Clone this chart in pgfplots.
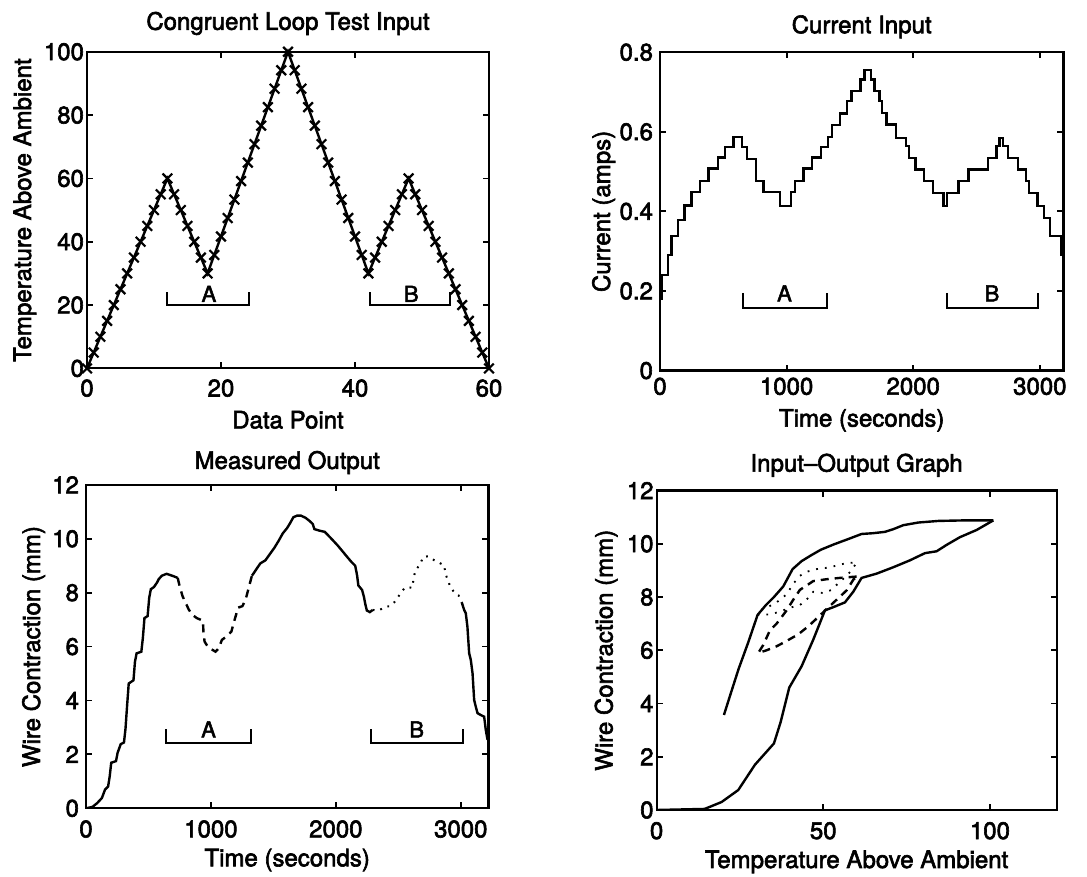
\documentclass[border=0pt]{standalone}
\usepackage{fontspec}
\setmainfont{TeX Gyre Heros}[FakeBold=2.5]
\usepackage{pgfplots}
\pgfplotsset{compat=1.18}
\pgfplotsset{
  mat/.style={
    scale only axis, anchor=south west,
    font=\fontsize{12}{14}\selectfont,
    /pgf/number format/assume math mode=true,
    axis line style={line width=1.1pt},
    every tick/.style={line width=0.9pt, black},
    major tick length=3pt,
    tick align=inside, tick pos=both,
    scaled ticks=false,
    every axis title shift=0pt,
    title style={anchor=base},
    xlabel style={anchor=base},
    ylabel style={anchor=base},
  },
}
\tikzset{lbl/.style={font=\fontsize{11}{13}\selectfont, anchor=base}}
\begin{document}
\begin{tikzpicture}
\path[use as bounding box] (0,0) rectangle (543.5pt,438.5pt);

% ---------- Panel 1
\begin{axis}[mat, at={(43.5pt,254.3pt)}, width=201pt, height=158.3pt,
  xmin=0, xmax=60, ymin=0, ymax=100, clip=false,
  xtick={0,20,40,60}, ytick={0,20,40,60,80,100},
  xticklabel style={yshift=-2pt}, yticklabel style={xshift=2pt},
  title={Congruent Loop Test Input},
  title style={at={([yshift=11pt]axis description cs:0.5,1)}},
  xlabel={Data Point}, xlabel style={at={([yshift=-30pt]axis description cs:0.5,0)}},
  ylabel={Temperature Above Ambient}, ylabel style={at={([xshift=-28pt]axis description cs:0,0.5)}},
]
\addplot[black, line width=1.2pt, mark=x, mark size=3.4pt, mark options={line width=1.1pt}] coordinates {
(0,0)(1,5)(2,10)(3,15)(4,20)(5,25)(6,30)(7,35)(8,40)(9,45)(10,50)(11,55)(12,60)
(13,55)(14,50)(15,45)(16,40)(17,35)(18,30)
(19,35.83)(20,41.67)(21,47.5)(22,53.33)(23,59.17)(24,65)(25,70.83)(26,76.67)(27,82.5)(28,88.33)(29,94.17)(30,100)
(31,94.17)(32,88.33)(33,82.5)(34,76.67)(35,70.83)(36,65)(37,59.17)(38,53.33)(39,47.5)(40,41.67)(41,35.83)(42,30)
(43,35)(44,40)(45,45)(46,50)(47,55)(48,60)
(49,55)(50,50)(51,45)(52,40)(53,35)(54,30)(55,25)(56,20)(57,15)(58,10)(59,5)(60,0)};
\addplot[black, line width=1pt] coordinates {(12,24)(12,20)(24.2,20)(24.2,24)};
\addplot[black, line width=1pt] coordinates {(42.2,24)(42.2,20)(54.2,20)(54.2,24)};
\node[lbl] at (axis cs:18.2,21) {A};
\node[lbl] at (axis cs:48.4,21) {B};
\end{axis}

% ---------- Panel 2
\begin{axis}[mat, at={(330pt,253.2pt)}, width=201.7pt, height=159.2pt,
  xmin=0, xmax=3186, ymin=0, ymax=0.8,
  xtick={0,1000,2000,3000}, xticklabels={0,1000,2000,3000},
  ytick={0,0.2,0.4,0.6,0.8}, yticklabels={0,0.2,0.4,0.6,0.8},
  title={Current Input},
  title style={at={([yshift=9.5pt]axis description cs:0.5,1)}},
  xlabel={Time (seconds)}, xlabel style={at={([yshift=-28pt]axis description cs:0.5,0)}},
  ylabel={Current (amps)}, ylabel style={at={([xshift=-25pt]axis description cs:0,0.5)}},
]
\addplot[black, line width=1.2pt, const plot] coordinates {
(0,0.18)(12,0.24)(61,0.29)(92,0.338)(140,0.379)(192,0.415)(250,0.448)(316,0.477)(382,0.508)(456,0.535)(514,0.562)(580,0.587)
(646,0.562)(685,0.532)(756,0.477)(817,0.448)(949,0.413)
(1036,0.448)(1067,0.477)(1133,0.508)(1199,0.535)(1273,0.562)(1326,0.587)(1357,0.617)(1423,0.646)(1476,0.677)(1512,0.702)(1582,0.731)(1616,0.756)
(1668,0.731)(1694,0.702)(1733,0.677)(1754,0.647)(1790,0.618)(1863,0.585)(1941,0.564)(1967,0.534)(2019,0.505)(2084,0.476)(2154,0.446)(2240,0.413)
(2266,0.446)(2357,0.476)(2435,0.505)(2591,0.534)(2656,0.564)(2682,0.585)
(2708,0.564)(2747,0.534)(2825,0.505)(2890,0.476)(2916,0.446)(2981,0.413)(3033,0.384)(3080,0.338)(3172,0.29)(3186,0.29)};
\addplot[black, line width=1pt] coordinates {(653,0.195)(653,0.157)(1318,0.157)(1318,0.195)};
\addplot[black, line width=1pt] coordinates {(2266,0.195)(2266,0.157)(2985,0.157)(2985,0.195)};
\node[lbl] at (axis cs:983,0.174) {A};
\node[lbl] at (axis cs:2622,0.174) {B};
\end{axis}

% ---------- Panel 3
\begin{axis}[mat, at={(43pt,34.35pt)}, width=201.2pt, height=161.7pt,
  xmin=0, xmax=3221, ymin=0, ymax=12,
  xtick={0,1000,2000,3000}, xticklabels={0,1000,2000,3000},
  ytick={0,2,4,6,8,10,12},
  xticklabel style={yshift=-2.5pt},
  title={Measured Output},
  title style={at={([yshift=8pt]axis description cs:0.5,1)}},
  xlabel={Time (seconds)}, xlabel style={at={([yshift=-29pt]axis description cs:0.5,0)}},
  ylabel={Wire Contraction (mm)}, ylabel style={at={([xshift=-23pt]axis description cs:0,0.5)}},
]
\addplot[black, line width=1.2pt] coordinates {
(0,0)(51,0.05)(89,0.19)(127,0.38)(152,0.69)(177,0.81)(190,1.19)(202,1.69)(240,1.75)(253,2.06)(278,2.38)(304,2.44)(316,2.94)(329,3.81)(342,4.63)(380,4.75)(392,5.44)(405,5.75)(443,5.81)(455,6.31)(468,7.06)(493,7.13)(506,7.81)(519,8.13)(544,8.21)(569,8.38)(582,8.5)(607,8.63)(645,8.7)(696,8.62)(734,8.55)};
\addplot[black, line width=1.2pt, dash pattern=on 4pt off 3pt] coordinates {
(734,8.55)(746,8.31)(772,7.88)(797,7.63)(822,7.38)(848,7.19)(886,7.06)(936,6.96)(940,6.56)(949,6.19)(974,6.0)(1012,5.88)(1037,5.81)(1063,5.94)(1088,6.25)(1126,6.38)(1164,6.56)(1182,6.88)(1202,7.19)(1214,7.44)(1252,7.5)(1278,7.75)(1303,8.19)(1328,8.63)};
\addplot[black, line width=1.2pt] coordinates {
(1328,8.63)(1342,8.72)(1369,8.91)(1396,9.09)(1436,9.2)(1476,9.46)(1510,9.68)(1545,9.95)(1575,10.2)(1610,10.4)(1636,10.6)(1660,10.8)(1690,10.86)(1720,10.86)(1757,10.78)(1790,10.66)(1815,10.55)(1828,10.36)(1870,10.3)(1910,10.26)(1940,10.12)(1975,9.95)(2015,9.75)(2060,9.5)(2090,9.33)(2125,9.14)(2155,9.0)(2170,8.64)(2180,8.27)(2210,8.1)(2225,7.84)(2235,7.59)(2248,7.34)(2272,7.28)(2295,7.36)};
\addplot[black, line width=1pt, dash pattern=on 0.9pt off 3pt] coordinates {
(2295,7.36)(2341,7.34)(2405,7.49)(2430,7.49)(2469,7.65)(2507,7.90)(2546,8.15)(2571,8.21)(2610,8.18)(2623,8.52)(2635,8.81)(2674,9.05)(2699,9.33)(2738,9.35)(2789,9.20)(2866,9.02)(2879,8.68)(2917,8.21)(2956,7.96)(2982,7.90)(3007,7.65)};
\addplot[black, line width=1.2pt] coordinates {
(3007,7.65)(3027,7.36)(3040,7.24)(3053,6.74)(3067,5.75)(3080,5.51)(3094,5.01)(3107,4.02)(3120,3.77)(3134,3.53)(3160,3.46)(3187,3.40)(3200,2.91)(3214,2.54)};
\addplot[black, line width=1pt] coordinates {(642,2.93)(642,2.41)(1321,2.41)(1321,2.93)};
\addplot[black, line width=1pt] coordinates {(2278,2.93)(2278,2.41)(3021,2.41)(3021,2.93)};
\node[lbl] at (axis cs:981,2.63) {A};
\node[lbl] at (axis cs:2647,2.63) {B};
\end{axis}

% ---------- Panel 4
\begin{axis}[mat, at={(328.3pt,33.5pt)}, width=200pt, height=159.7pt,
  xmin=0, xmax=120, ymin=0, ymax=12,
  xtick={0,50,100}, ytick={0,2,4,6,8,10,12},
  xticklabel style={yshift=-2.5pt}, yticklabel style={xshift=2pt},
  title={Input--Output Graph},
  title style={at={([yshift=9.5pt]axis description cs:0.5,1)}},
  xlabel={Temperature Above Ambient}, xlabel style={at={([yshift=-29pt]axis description cs:0.5,0)}},
  ylabel={Wire Contraction (mm)}, ylabel style={at={([xshift=-22pt]axis description cs:0,0.5)}},
]
\addplot[black, line width=1.2pt] coordinates {
(20.2,3.57)(22.3,4.4)(24.6,5.3)(27.5,6.3)(30.3,7.33)(32.8,7.7)(35.2,8.0)(38,8.4)(40.8,9.05)(43.5,9.35)(46.5,9.58)(49.3,9.78)(53.2,9.98)(57.5,10.18)(61.5,10.37)(65,10.4)(68.5,10.45)(71,10.55)(74,10.7)(78.5,10.8)(84.5,10.86)(92,10.88)(101,10.88)};
\addplot[black, line width=1.2pt] coordinates {
(0,0)(14.4,0.04)(16,0.12)(19.5,0.3)(24.5,0.75)(29.5,1.7)(35.2,2.5)(37.2,3.3)(39.8,4.6)(43.5,5.4)(47,6.4)(50.5,7.5)(53,7.62)(56.5,7.8)(59,8.2)(61.5,8.72)(66,8.88)(71,9.12)(76,9.38)(80.5,9.65)(84,9.72)(87,9.96)(91,10.25)(96,10.52)(101,10.88)};
\addplot[black, line width=1.2pt, dash pattern=on 4pt off 3pt] coordinates {
(60,8.77)(55,8.72)(51,8.67)(47,8.6)(43,8.27)(41,7.9)(39,7.5)(36,7.0)(34,6.75)(32,6.2)(30.5,5.9)(33,6.0)(36,6.15)(39,6.35)(42.5,6.6)(45.5,6.9)(48.5,7.25)(51,7.55)(54,7.9)(57,8.25)(59,8.65)(60,8.77)};
\addplot[black, line width=0.9pt, dash pattern=on 0.9pt off 3.5pt] coordinates {
(30.3,7.33)(34,7.35)(37,7.45)(40,7.6)(43,7.7)(45,7.9)(47,8.2)(50,8.15)(52.5,8.27)(54.5,8.52)(56.5,8.74)(58.5,9.0)(60,9.3)(57,9.28)(54,9.18)(51,9.1)(48,9.05)(45,8.95)(43,8.8)(41,8.5)(39,8.1)(36,7.8)(33,7.6)(31,7.5)};
\end{axis}
\end{tikzpicture}
\end{document}
